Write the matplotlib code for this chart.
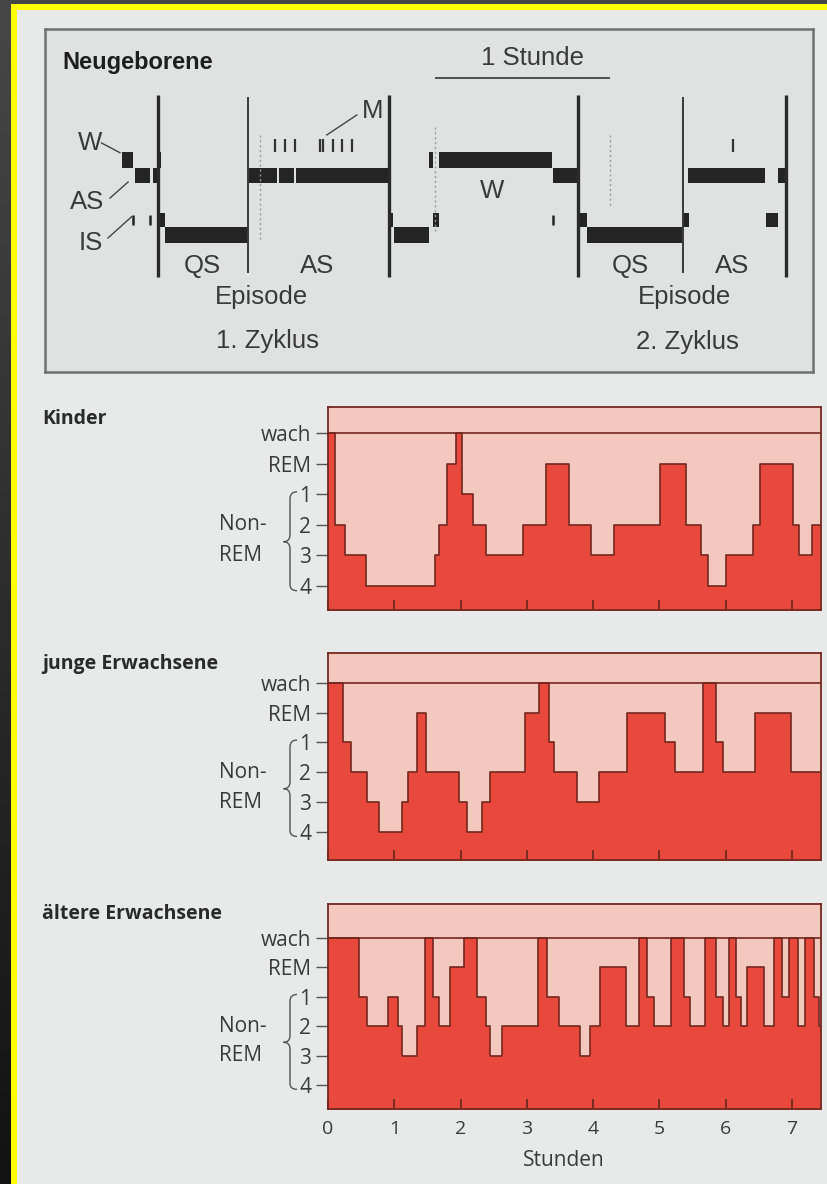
import matplotlib
matplotlib.use("Agg")
import matplotlib.pyplot as plt
import numpy as np
from matplotlib.path import Path
from matplotlib.patches import PathPatch, Rectangle
import matplotlib.transforms as mtransforms

# ---------------------------------------------------------------
# Neugeborene: polygraphic sleep states, time in minutes
# ---------------------------------------------------------------
nb_stage = ['W', 'AS', 'AS', 'IS', 'W', 'QS', 'AS', 'AS', 'AS', 'IS', 'QS',
            'W', 'IS', 'W', 'AS', 'IS', 'QS', 'IS', 'AS', 'IS', 'AS']
nb_start = [0.0, 4.6, 10.7, 12.0, 12.6, 14.8, 43.3, 53.9, 59.8, 91.8, 93.4,
            105.5, 106.6, 108.9, 147.8, 156.5, 159.4, 192.3, 194.3, 220.9, 225.1]
nb_end = [4.0, 9.7, 12.4, 14.8, 13.4, 43.3, 53.4, 59.2, 91.5, 93.1, 105.5,
          106.8, 108.9, 147.4, 156.1, 159.4, 192.0, 194.6, 220.6, 225.1, 227.8]
nb_is_marks = [4.0, 9.7, 147.8]                  # short IS twitches
nb_m_marks = [52.6, 56.0, 59.4, 68.0, 69.0, 72.3, 75.4, 78.9, 209.7]  # movements
nb_cycle_bounds = [12.55, 91.75, 156.55, 227.75]
nb_episode_bounds = [43.4, 192.3]
nb_dotted = [47.4, 107.4, 167.4]

# ---------------------------------------------------------------
# Hypnograms: change times in hours and the stage entered
# ---------------------------------------------------------------
stage_names = ['wach', 'REM', '1', '2', '3', '4']
stage_level = {'W': 5, 'REM': 4, '1': 3, '2': 2, '3': 1, '4': 0}
hours = [0, 1, 2, 3, 4, 5, 6, 7]

kinder_t = [0.00, 0.10, 0.26, 0.58, 1.61, 1.68, 1.80, 1.93, 2.02, 2.19, 2.39,
            2.95, 3.29, 3.64, 3.97, 4.31, 5.01, 5.41, 5.63, 5.74, 6.00, 6.41,
            6.52, 7.02, 7.11, 7.31]
kinder_s = ['W', '2', '3', '4', '3', '2', 'REM', 'W', '1', '2', '3',
            '2', 'REM', '2', '3', '2', 'REM', '2', '3', '4', '3', '2',
            'REM', '2', '3', '2']

junge_t = [0.00, 0.22, 0.35, 0.59, 0.77, 1.11, 1.21, 1.34, 1.48, 1.98, 2.10,
           2.32, 2.44, 2.98, 3.19, 3.33, 3.41, 3.76, 4.09, 4.51, 5.09, 5.23,
           5.66, 5.85, 5.96, 6.45, 6.99]
junge_s = ['W', '1', '2', '3', '4', '3', '2', 'REM', '2', '3', '4',
           '3', '2', 'REM', 'W', '1', '2', '3', '2', 'REM', '1', '2',
           'W', '1', '2', 'REM', '2']

aeltere_t = [0.00, 0.47, 0.59, 0.91, 1.05, 1.11, 1.34, 1.47, 1.58, 1.68, 1.84,
             2.05, 2.25, 2.38, 2.44, 2.63, 3.17, 3.31, 3.48, 3.80, 3.96, 4.11,
             4.49, 4.69, 4.82, 4.92, 5.18, 5.37, 5.47, 5.69, 5.85, 5.96, 6.05,
             6.15, 6.24, 6.32, 6.58, 6.73, 6.85, 6.96, 7.09, 7.20, 7.33, 7.41]
aeltere_s = ['W', '1', '2', '1', '2', '3', '2', 'W', '1', '2', 'REM',
             'W', '1', '2', '3', '2', 'W', '1', '2', '3', '2', 'REM',
             '2', 'W', '1', '2', 'W', '1', '2', 'W', '1', '2', 'W',
             '1', '2', 'REM', '2', 'W', '1', 'W', '2', 'W', '1', '2']

panel_titles = ['Kinder', 'junge Erwachsene', 'ältere Erwachsene']
T_END = 7.44

# ---------------------------------------------------------------
# Figure and styling
# ---------------------------------------------------------------
W_PX, H_PX = 828, 1184
fig = plt.figure(figsize=(W_PX / 100, H_PX / 100), dpi=100)


def fx(px):
    return px / W_PX


def fy(py):
    return 1 - py / H_PX


RED = '#e8493c'
PINK = '#f3c9bf'
DARK = '#73281f'
PAGE = '#e8e9e9'
BOX_BG = '#e0e1e1'
TXT = '#3a3a3a'
HUM = 'Open Sans'
ARIAL = 'Liberation Sans'

# page background, yellow frame
bg = fig.add_axes([0, 0, 1, 1], zorder=-10)
bg.set_xlim(0, W_PX)
bg.set_ylim(H_PX, 0)
bg.axis('off')
grad = np.linspace(0, 1, 256).reshape(-1, 1)
bg.imshow(grad, extent=(0, 11, H_PX, 0), cmap=matplotlib.colors.LinearSegmentedColormap.from_list(
    'edge', ['#474747', '#121212']), aspect='auto')
bg.add_patch(Rectangle((0, 0), W_PX, 4, color='#454545', lw=0))
bg.add_patch(Rectangle((11, 4), W_PX, H_PX, color='#ffff00', lw=0))
bg.add_patch(Rectangle((17, 10), W_PX, H_PX, color=PAGE, lw=0))

# ---------------------------------------------------------------
# Neugeborene box
# ---------------------------------------------------------------
BOX_L, BOX_R, BOX_T, BOX_B = 45, 813, 29, 372
MIN_PX = 175 / 60.0          # pixels per minute in the box
T0_PX = 121.7
ax0 = fig.add_axes([fx(BOX_L), fy(BOX_B), (BOX_R - BOX_L) / W_PX, (BOX_B - BOX_T) / H_PX])
ax0.set_xlim((BOX_L - T0_PX) / MIN_PX, (BOX_R - T0_PX) / MIN_PX)
ax0.set_ylim(BOX_B, BOX_T)
ax0.set_facecolor(BOX_BG)
ax0.set_xticks([])
ax0.set_yticks([])
for sp in ax0.spines.values():
    sp.set_color('#707070')
    sp.set_linewidth(1.8)

band = {'W': (152, 16), 'AS': (168, 15), 'IS': (213, 14), 'QS': (227, 16)}
BAR = '#242424'
for lvl in band:
    spans = [(s, e - s) for st, s, e in zip(nb_stage, nb_start, nb_end) if st == lvl]
    ax0.broken_barh(spans, band[lvl], facecolors=BAR, lw=0)

ax0.vlines(nb_is_marks, 215, 225, color=BAR, lw=1.8)
ax0.vlines(nb_m_marks, 139, 152, color='#333333', lw=1.6)
ax0.vlines(nb_cycle_bounds, 95, 277, color='#2a2a2a', lw=2.4)
ax0.vlines(nb_episode_bounds, 97, 273, color='#3a3a3a', lw=1.4)
ax0.vlines(nb_dotted[0], 135, 240, color='#9a9a9a', lw=1.0, ls=(0, (1.5, 2)))
ax0.vlines(nb_dotted[1], 127, 233, color='#9a9a9a', lw=1.0, ls=(0, (1.5, 2)))
ax0.vlines(nb_dotted[2], 135, 207, color='#9a9a9a', lw=1.0, ls=(0, (1.5, 2)))

# scale bar: one hour
ax0.hlines(78, 107.4, 167.4, color='#444444', lw=1.3)
ax0.text(140.7, 58, '1 Stunde', fontsize=18.5, family=ARIAL, color=TXT, ha='center', va='center')

ax0.text(-20.5, 62, 'Neugeborene', fontsize=17, family=ARIAL, weight='bold',
         color='#1e1e1e', ha='left', va='center')

lab = dict(fontsize=18.5, family=ARIAL, color=TXT, ha='center', va='center')
ax0.text(-10.9, 143, 'W', **lab)
ax0.plot([-6.9, -0.6], [143, 152.7], color='#444444', lw=1.0)
ax0.text(-12.0, 202, 'AS', **lab)
ax0.plot([-4.0, 2.2], [198, 182], color='#444444', lw=1.0)
ax0.text(-10.5, 243, 'IS', **lab)
ax0.plot([-4.7, 3.4], [238, 216.7], color='#444444', lw=1.0)
ax0.text(86.2, 111, 'M', **lab)
ax0.plot([80.6, 70.3], [115, 135], color='#444444', lw=1.0)
ax0.text(126.9, 191, 'W', **lab)

ax0.text(27.6, 266, 'QS', **lab)
ax0.text(66.9, 266, 'AS', **lab)
ax0.text(48.0, 297, 'Episode', **lab)
ax0.text(50.0, 341, '1. Zyklus', **lab)
ax0.text(174.3, 266, 'QS', **lab)
ax0.text(209.3, 266, 'AS', **lab)
ax0.text(192.8, 297, 'Episode', **lab)
ax0.text(194.0, 342, '2. Zyklus', **lab)

# ---------------------------------------------------------------
# Hypnograms
# ---------------------------------------------------------------
PAN_L, PAN_R = 328, 821
pan_frames = [(407, 610), (653, 860), (904, 1109)]
pan_ylims = [(-0.78, 5.85), (-0.94, 6.0), (-0.82, 6.16)]
title_y = [419, 664, 914]
series = [(kinder_t, kinder_s), (junge_t, junge_s), (aeltere_t, aeltere_s)]


def to_frac(px):
    return (px - PAN_L) / (PAN_R - PAN_L)


for i, ((t, s), (top, bot), ylim) in enumerate(zip(series, pan_frames, pan_ylims)):
    ax = fig.add_axes([fx(PAN_L), fy(bot), (PAN_R - PAN_L) / W_PX, (bot - top) / H_PX])
    y = [stage_level[k] for k in s]
    tt = list(t) + [T_END]
    yy = y + [y[-1]]
    ax.set_facecolor(PINK)
    ax.fill_between(tt, yy, ylim[0] - 1, step='post', color=RED, lw=0)
    ax.axhline(stage_level['W'], color=DARK, lw=1.2)
    ax.step(tt, yy, where='post', color=DARK, lw=1.2)
    ax.set_xlim(0, T_END)
    ax.set_ylim(*ylim)
    for sp in ax.spines.values():
        sp.set_color(DARK)
        sp.set_linewidth(1.3)

    ax.set_yticks([stage_level[k] for k in ['W', 'REM', '1', '2', '3', '4']])
    ax.set_yticklabels(stage_names, fontsize=15, family=HUM, color=TXT)
    ax.tick_params(axis='y', direction='out', length=9, width=1.0, color='#555555', pad=3)

    ax.set_xticks(hours)
    ax.tick_params(axis='x', direction='in', length=7.5, width=1.3, color=DARK, pad=8)
    if i < 2:
        ax.set_xticklabels([])
    else:
        ax.set_xticklabels([str(h) for h in hours], fontsize=14, family=HUM, color=TXT)

    trans = mtransforms.blended_transform_factory(ax.transAxes, ax.transData)
    ax.text(to_frac(219), 2, 'Non-', transform=trans, fontsize=15, family=HUM,
            color=TXT, ha='left', va='center', clip_on=False)
    ax.text(to_frac(219), 1, 'REM', transform=trans, fontsize=15, family=HUM,
            color=TXT, ha='left', va='center', clip_on=False)

    xr, xm, xl = to_frac(297), to_frac(290), to_frac(283.5)
    verts = [(xr, 3.08), (xm, 3.08), (xm, 2.85), (xm, 1.68),
             (xm, 1.45), (xl, 1.45), (xm, 1.45), (xm, 1.22),
             (xm, 0.05), (xm, -0.15), (xr, -0.15)]
    codes = [Path.MOVETO, Path.CURVE3, Path.CURVE3, Path.LINETO,
             Path.CURVE3, Path.CURVE3, Path.CURVE3, Path.CURVE3,
             Path.LINETO, Path.CURVE3, Path.CURVE3]
    ax.add_patch(PathPatch(Path(verts, codes), transform=trans, fill=False,
                           edgecolor='#555555', lw=1.0, clip_on=False))

    fig.text(fx(42), fy(title_y[i]), panel_titles[i], fontsize=14, family=HUM,
             weight='bold', color='#2a2a2a', ha='left', va='center')

fig.text(fx(564), fy(1160), 'Stunden', fontsize=15, family=HUM, color=TXT,
         ha='center', va='center')

fig.savefig('out.png', dpi=100)
